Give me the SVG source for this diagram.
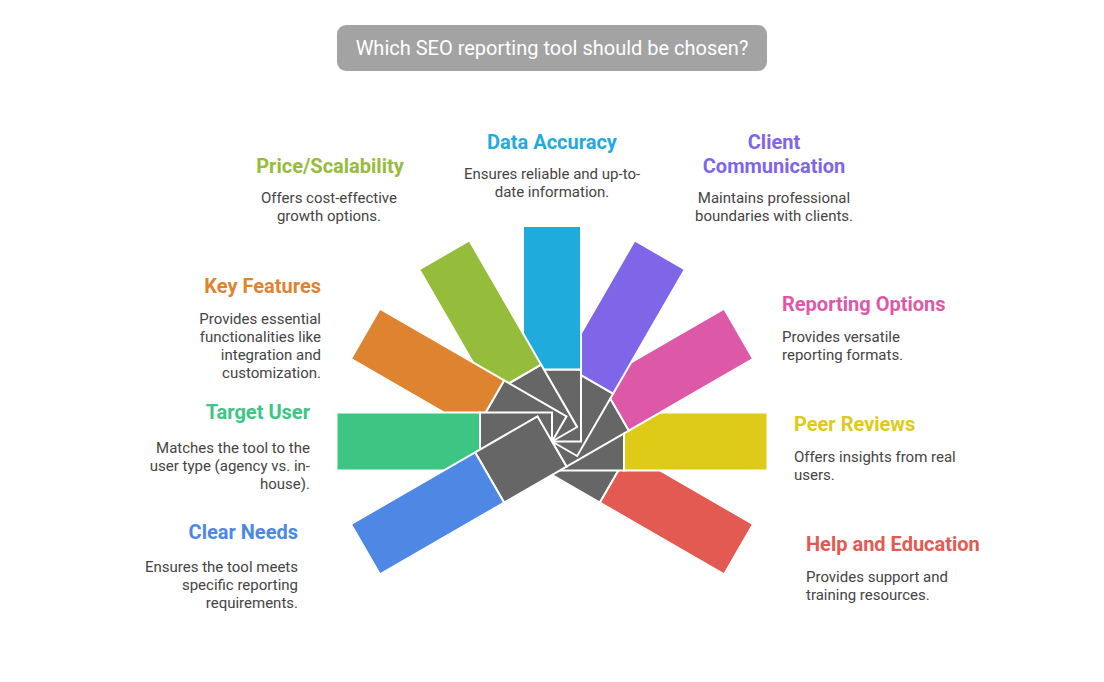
<svg xmlns="http://www.w3.org/2000/svg" width="1104" height="682" viewBox="0 0 1104 682">
<style>
.g{fill:#666666;stroke:#ffffff;stroke-width:2;stroke-linejoin:miter}
.c{stroke:#ffffff;stroke-width:2}
.t{font-family:Roboto,"Liberation Sans",sans-serif;font-size:20px;font-weight:700}
.d{font-family:Roboto,"Liberation Sans",sans-serif;font-size:15px;fill:#444444}
.ttl{font-family:Roboto,"Liberation Sans",sans-serif;font-size:20px;fill:#ffffff}
.m{text-anchor:middle}.e{text-anchor:end}.s{text-anchor:start}
</style>
<rect width="1104" height="682" fill="#ffffff"/>
<g id="title">
<rect x="337" y="25" width="430" height="46" rx="9" fill="#a3a3a3"/>
<text class="ttl m" x="552" y="55">Which SEO reporting tool should be chosen?</text>
</g>
<g id="fan">
<g id="seg-help" transform="translate(552 441.5) rotate(30)"><rect class="g" x="0" y="-29" width="72" height="58"/><rect class="c" x="72" y="-29" width="143.5" height="58" fill="#e35a52"/></g>
<g id="seg-peer" transform="translate(552 441.5) rotate(0)"><rect class="g" x="0" y="-29" width="72" height="58"/><rect class="c" x="72" y="-29" width="143.5" height="58" fill="#ddcb17"/></g>
<g id="seg-reporting" transform="translate(552 441.5) rotate(-30)"><rect class="g" x="0" y="-29" width="72" height="58"/><rect class="c" x="72" y="-29" width="143.5" height="58" fill="#dd59a8"/></g>
<g id="seg-client" transform="translate(552 441.5) rotate(-60)"><rect class="g" x="0" y="-29" width="72" height="58"/><rect class="c" x="72" y="-29" width="143.5" height="58" fill="#7f65e8"/></g>
<g id="seg-data" transform="translate(552 441.5) rotate(-90)"><rect class="g" x="0" y="-29" width="72" height="58"/><rect class="c" x="72" y="-29" width="143.5" height="58" fill="#1fabdb"/></g>
<g id="seg-price" transform="translate(552 441.5) rotate(-120)"><rect class="g" x="0" y="-29" width="72" height="58"/><rect class="c" x="72" y="-29" width="143.5" height="58" fill="#96bc3b"/></g>
<g id="seg-key" transform="translate(552 441.5) rotate(-150)"><rect class="g" x="0" y="-29" width="72" height="58"/><rect class="c" x="72" y="-29" width="143.5" height="58" fill="#de8431"/></g>
<g id="seg-target" transform="translate(552 441.5) rotate(180)"><rect class="g" x="0" y="-29" width="72" height="58"/><rect class="c" x="72" y="-29" width="143.5" height="58" fill="#3dc584"/></g>
<g id="seg-clear" transform="translate(552 441.5) rotate(150)"><rect class="g" x="0" y="-29" width="72" height="58"/><rect class="c" x="72" y="-29" width="143.5" height="58" fill="#4e88e4"/></g>
</g>
<g id="label-data">
<text class="t m" x="552" y="149" fill="#1fabdb">Data Accuracy</text>
<text class="d m" x="552" y="179">Ensures reliable and up-to-</text>
<text class="d m" x="552" y="197">date information.</text>
</g>
<g id="label-price">
<text class="t m" x="330" y="173" fill="#96bc3b">Price/Scalability</text>
<text class="d m" x="329" y="203" fill="#4a4a3a">Offers cost-effective</text>
<text class="d m" x="329" y="221" fill="#4a4a3a">growth options.</text>
</g>
<g id="label-client">
<text class="t m" x="774" y="149" fill="#7f65e8">Client</text>
<text class="t m" x="774" y="173" fill="#7f65e8">Communication</text>
<text class="d m" x="774" y="203" fill="#3e3a55">Maintains professional</text>
<text class="d m" x="774" y="221" fill="#3e3a55">boundaries with clients.</text>
</g>
<g id="label-key">
<text class="t e" x="321" y="293" fill="#de8431">Key Features</text>
<text class="d e" x="321" y="324" fill="#4a4038">Provides essential</text>
<text class="d e" x="321" y="342" fill="#4a4038">functionalities like</text>
<text class="d e" x="321" y="360" fill="#4a4038">integration and</text>
<text class="d e" x="321" y="378" fill="#4a4038">customization.</text>
</g>
<g id="label-reporting">
<text class="t s" x="782" y="311" fill="#dd59a8">Reporting Options</text>
<text class="d s" x="782" y="342" fill="#4a3a44">Provides versatile</text>
<text class="d s" x="782" y="360" fill="#4a3a44">reporting formats.</text>
</g>
<g id="label-target">
<text class="t e" x="310" y="419" fill="#3dc584">Target User</text>
<text class="d e" x="310" y="453" fill="#3a4a42">Matches the tool to the</text>
<text class="d e" x="310" y="471" fill="#3a4a42">user type (agency vs. in-</text>
<text class="d e" x="310" y="489" fill="#3a4a42">house).</text>
</g>
<g id="label-peer">
<text class="t s" x="794" y="431" fill="#ddcb17">Peer Reviews</text>
<text class="d s" x="794" y="462" fill="#4a4632">Offers insights from real</text>
<text class="d s" x="794" y="480" fill="#4a4632">users.</text>
</g>
<g id="label-clear">
<text class="t e" x="298" y="539" fill="#4e88e4">Clear Needs</text>
<text class="d e" x="298" y="572" fill="#3a4250">Ensures the tool meets</text>
<text class="d e" x="298" y="590" fill="#3a4250">specific reporting</text>
<text class="d e" x="298" y="608" fill="#3a4250">requirements.</text>
</g>
<g id="label-help">
<text class="t s" x="806" y="551" fill="#e35a52">Help and Education</text>
<text class="d s" x="806" y="582" fill="#4a3a3a">Provides support and</text>
<text class="d s" x="806" y="600" fill="#4a3a3a">training resources.</text>
</g>
</svg>
